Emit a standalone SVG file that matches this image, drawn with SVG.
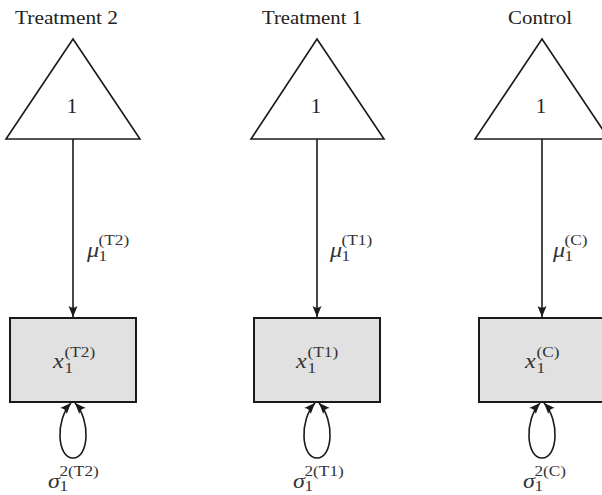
<svg xmlns="http://www.w3.org/2000/svg" width="602" height="495" viewBox="0 0 602 495">
  <defs>
    <marker id="head" viewBox="-12 -6 13 12" markerWidth="13" markerHeight="12" refX="0" refY="0" orient="auto-start-reverse" markerUnits="userSpaceOnUse">
      <path d="M0,0 L-11,-4.5 Q-7.5,0 -11,4.5 Z" fill="#1a1a1a"/>
    </marker>
    <style>
      .title { font-family: "Liberation Serif", "DejaVu Serif", serif; font-size: 18px; fill: #222; text-anchor: middle; }
      .one { font-family: "Liberation Serif", "DejaVu Serif", serif; font-size: 21px; fill: #222; text-anchor: middle; }
      .tri { fill: #fff; stroke: #1a1a1a; stroke-width: 1.6; stroke-linejoin: miter; }
      .box { fill: #e1e1e1; stroke: #1a1a1a; stroke-width: 2; }
      .math { font-family: "Liberation Serif", "DejaVu Serif", serif; font-style: italic; font-size: 21px; fill: #333; }
      .idx { font-family: "Liberation Serif", "DejaVu Serif", serif; font-size: 15px; fill: #333; }
      .edge { fill: none; stroke: #1a1a1a; stroke-width: 1.6; }
    </style>
  </defs>

  <!-- titles -->
  <text class="title" x="66.5" y="24" textLength="103" lengthAdjust="spacingAndGlyphs">Treatment 2</text>
  <text class="title" x="312" y="24" textLength="100" lengthAdjust="spacingAndGlyphs">Treatment 1</text>
  <text class="title" x="540" y="24" textLength="64" lengthAdjust="spacingAndGlyphs">Control</text>

  <!-- connectors: mean paths and variance loops -->
  <g id="connectors">
    <line class="edge" x1="73" y1="139" x2="73" y2="317" marker-end="url(#head)"/>
    <line class="edge" x1="317" y1="139" x2="317" y2="317" marker-end="url(#head)"/>
    <line class="edge" x1="542" y1="139" x2="542" y2="317" marker-end="url(#head)"/>
    <path class="edge" d="M71,403 C55,420 57,458 73,458 C89,458 91,420 75,403" marker-start="url(#head)" marker-end="url(#head)"/>
    <path class="edge" d="M315,403 C299,420 301,458 317,458 C333,458 335,420 319,403" marker-start="url(#head)" marker-end="url(#head)"/>
    <path class="edge" d="M540,403 C524,420 526,458 542,458 C558,458 560,420 544,403" marker-start="url(#head)" marker-end="url(#head)"/>
  </g>

  <!-- constant triangles -->
  <g id="const-t2">
    <polygon class="tri" points="73,39 6,139 140,139"/>
    <text class="one" x="72" y="113">1</text>
  </g>
  <g id="const-t1">
    <polygon class="tri" points="317,39 251,139 384,139"/>
    <text class="one" x="316" y="113">1</text>
  </g>
  <g id="const-c">
    <polygon class="tri" points="542,39 475,139 609,139"/>
    <text class="one" x="541" y="113">1</text>
  </g>

  <!-- observed variables -->
  <g id="x-t2">
    <rect class="box" x="10" y="318" width="126" height="84"/>
    <g transform="translate(53,368) scale(1.15,1)">
      <text class="math" x="0" y="0">x</text>
      <text class="idx" x="10" y="5">1</text>
      <text class="idx" x="10" y="-11">(T2)</text>
    </g>
  </g>
  <g id="x-t1">
    <rect class="box" x="254" y="318" width="126" height="84"/>
    <g transform="translate(296,368) scale(1.15,1)">
      <text class="math" x="0" y="0">x</text>
      <text class="idx" x="10" y="5">1</text>
      <text class="idx" x="10" y="-11">(T1)</text>
    </g>
  </g>
  <g id="x-c">
    <rect class="box" x="479" y="318" width="126" height="84"/>
    <g transform="translate(525,368) scale(1.15,1)">
      <text class="math" x="0" y="0">x</text>
      <text class="idx" x="10" y="5">1</text>
      <text class="idx" x="10" y="-11">(C)</text>
    </g>
  </g>

  <!-- mean labels -->
  <g id="mu-labels">
    <g transform="translate(87,257) scale(1.15,1)">
      <text class="math" x="0" y="0">μ</text>
      <text class="idx" x="10" y="4">1</text>
      <text class="idx" x="10" y="-12">(T2)</text>
    </g>
    <g transform="translate(330,257) scale(1.15,1)">
      <text class="math" x="0" y="0">μ</text>
      <text class="idx" x="10" y="4">1</text>
      <text class="idx" x="10" y="-12">(T1)</text>
    </g>
    <g transform="translate(553,257) scale(1.15,1)">
      <text class="math" x="0" y="0">μ</text>
      <text class="idx" x="10" y="4">1</text>
      <text class="idx" x="10" y="-12">(C)</text>
    </g>
  </g>

  <!-- variance labels -->
  <g id="sigma-labels">
    <g transform="translate(48,488) scale(1.15,1)">
      <text class="math" x="0" y="0">σ</text>
      <text class="idx" x="10" y="3">1</text>
      <text class="idx" x="10" y="-12">2(T2)</text>
    </g>
    <g transform="translate(293,488) scale(1.15,1)">
      <text class="math" x="0" y="0">σ</text>
      <text class="idx" x="10" y="3">1</text>
      <text class="idx" x="10" y="-12">2(T1)</text>
    </g>
    <g transform="translate(523,488) scale(1.15,1)">
      <text class="math" x="0" y="0">σ</text>
      <text class="idx" x="10" y="3">1</text>
      <text class="idx" x="10" y="-12">2(C)</text>
    </g>
  </g>
</svg>
